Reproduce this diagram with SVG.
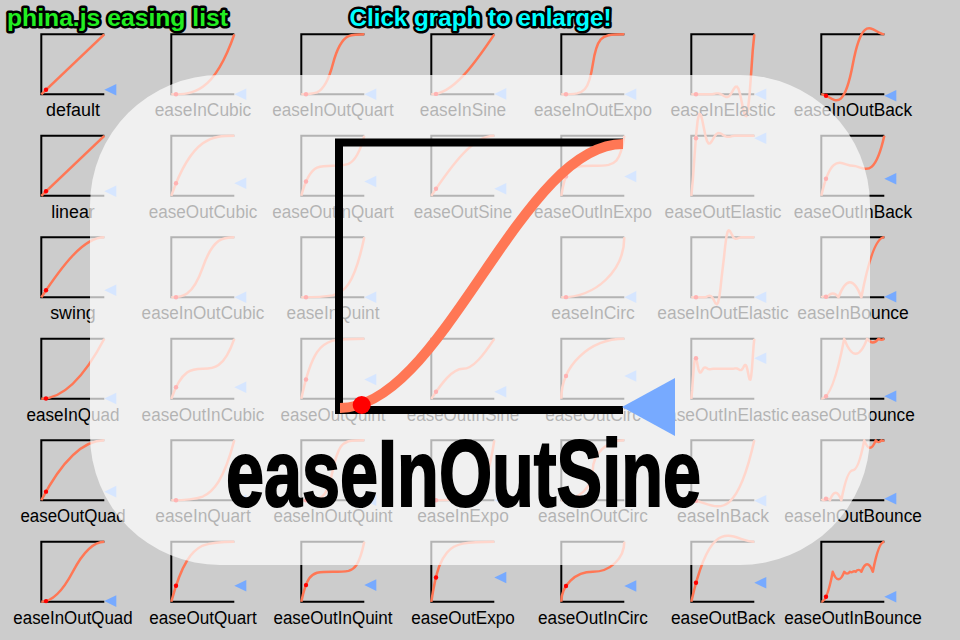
<svg xmlns="http://www.w3.org/2000/svg" xmlns:xlink="http://www.w3.org/1999/xlink" width="960" height="640" viewBox="0 0 960 640">
<style>
.cv{fill:none;stroke:#ff7755;stroke-width:4;stroke-linejoin:round}
.fr{fill:none;stroke:#000;stroke-width:2}
.dot{fill:#ff0000}
.tri{fill:#77aaff}
.lb{font-family:"Liberation Sans",Arial,sans-serif;font-size:18px;fill:#000;text-anchor:middle}
.ttl{font-family:"Liberation Sans",Arial,sans-serif;font-size:24px;font-weight:bold;stroke:#000;stroke-width:5;stroke-linejoin:round;paint-order:stroke}
</style>
<defs>
<polyline id="frame" class="fr" points="63,0 0,0 0,60 63,60"/>
<circle id="dot" class="dot" cx="4.7" cy="0" r="2.2"/>
<polygon id="tri" class="tri" points="63,0 75,-5.8 75,5.8"/>
<path id="lin" d="M0,0 L100,-100"/>
<path id="sinIn" d="M0,0 C33.33,0 66.67,-47.64 100,-100"/>
<path id="sinOut" d="M0,0 C33.33,-52.36 66.67,-100 100,-100"/>
<path id="sinInOut" d="M0,0 C8.333,0 16.667,-5.389 25,-14.645 C33.333,-23.901 41.667,-36.91 50,-50 C58.333,-63.09 66.667,-76.099 75,-85.355 C83.333,-94.611 91.667,-100 100,-100"/>
<path id="sinOutIn" d="M0,0 C16.67,-26.18 33.33,-50 50,-50 C66.67,-50 83.33,-73.82 100,-100"/>
<path id="quadIn" d="M0,0 Q50,0 100,-100"/>
<path id="quadOut" d="M0,0 Q50,-100 100,-100"/>
<path id="quadInOut" d="M0,0 Q25,0 50,-50 Q75,-100 100,-100"/>
<path id="cubicIn" d="M0,0 C33.33,0 66.67,0 100,-100"/>
<path id="cubicOut" d="M0,0 C33.33,-100 66.67,-100 100,-100"/>
<path id="cubicInOut" d="M0,0 C16.67,0 33.33,0 50,-50 C66.67,-100 83.33,-100 100,-100"/>
<path id="cubicOutIn" d="M0,0 C16.67,-50 33.33,-50 50,-50 C66.67,-50 83.33,-50 100,-100"/>
<path id="quartIn" d="M0,0 C16.67,0 33.33,0 50,-6.25 C66.67,-14.58 83.33,-33.33 100,-100"/>
<path id="quartOut" d="M0,0 C16.67,-66.67 33.33,-85.42 50,-93.75 C66.67,-100 83.33,-100 100,-100"/>
<path id="quartInOut" d="M0,0 C8.33,0 16.67,0 25,-3.13 C33.33,-7.29 41.67,-16.67 50,-50 C58.33,-83.33 66.67,-92.71 75,-96.88 C83.33,-100 91.67,-100 100,-100"/>
<path id="quartOutIn" d="M0,0 C8.33,-33.33 16.67,-42.71 25,-46.88 C33.33,-50 41.67,-50 50,-50 C58.33,-50 66.67,-50 75,-53.13 C83.33,-57.29 91.67,-66.67 100,-100"/>
<path id="quintIn" d="M0,0 C16.67,0 33.33,0 50,-3.13 C66.67,-8.33 83.33,-16.67 100,-100"/>
<path id="quintOut" d="M0,0 C16.67,-83.33 33.33,-91.67 50,-96.88 C66.67,-100 83.33,-100 100,-100"/>
<path id="quintInOut" d="M0,0 C8.33,0 16.67,0 25,-1.56 C33.33,-4.17 41.67,-8.33 50,-50 C58.33,-91.67 66.67,-95.83 75,-98.44 C83.33,-100 91.67,-100 100,-100"/>
<path id="quintOutIn" d="M0,0 C8.33,-41.67 16.67,-45.83 25,-48.44 C33.33,-50 41.67,-50 50,-50 C58.33,-50 66.67,-50 75,-51.56 C83.33,-54.17 91.67,-58.33 100,-100"/>
<path id="expoIn" d="M0,0 C16.67,0 33.33,0 50,-3.13 C58.33,-4.93 66.67,-7.47 75,-17.68 C83.33,-27.89 91.67,-42.24 100,-100"/>
<path id="expoOut" d="M0,0 C8.33,-57.76 16.67,-72.11 25,-82.32 C33.33,-92.53 41.67,-95.07 50,-96.88 C66.67,-100 83.33,-100 100,-100"/>
<path id="expoInOut" d="M0,0 C8.33,0 16.67,0 25,-1.56 C29.17,-2.47 33.33,-3.74 37.5,-8.84 C41.67,-13.95 45.83,-21.12 50,-50 C54.17,-78.88 58.33,-86.05 62.5,-91.16 C66.67,-96.26 70.83,-97.53 75,-98.44 C83.33,-100 91.67,-100 100,-100"/>
<path id="expoOutIn" d="M0,0 C4.17,-28.88 8.33,-36.05 12.5,-41.16 C16.67,-46.26 20.83,-47.53 25,-48.44 C33.33,-50 41.67,-50 50,-50 C58.33,-50 66.67,-50 75,-51.56 C79.17,-52.47 83.33,-53.74 87.5,-58.84 C91.67,-63.95 95.83,-71.12 100,-100"/>
<path id="circIn" d="M0,0 C55.23,0 100,-44.77 100,-100"/>
<path id="circOut" d="M0,0 C0,-55.23 44.77,-100 100,-100"/>
<path id="circInOut" d="M0,0 C27.61,0 50,-22.39 50,-50 C50,-77.61 72.39,-100 100,-100"/>
<path id="circOutIn" d="M0,0 C0,-27.61 22.39,-50 50,-50 C77.61,-50 100,-72.39 100,-100"/>
<path id="elIn" d="M0,0 L32.5,0 35,-0.55 37.5,-1.14 40,-1.56 42.5,-1.61 45,-1.11 47.5,0 50,1.56 52.5,3.22 55,4.42 57.5,4.55 60,3.13 62.5,0 65,-4.42 67.5,-9.1 70,-12.5 72.5,-12.88 75,-8.84 77.5,0 80,12.5 82.5,25.75 85,35.36 87.5,36.41 90,25 92.5,0 95,-35.36 97.5,-72.82 100,-100"/>
<path id="elOut" d="M0,0 L2.5,-27.18 5,-64.64 7.5,-100 10,-125 12.5,-136.41 15,-135.36 17.5,-125.75 20,-112.5 22.5,-100 25,-91.16 27.5,-87.12 30,-87.5 32.5,-90.9 35,-95.58 37.5,-100 40,-103.13 42.5,-104.55 45,-104.42 47.5,-103.22 50,-101.56 52.5,-100 55,-98.89 57.5,-98.39 60,-98.44 62.5,-98.86 65,-99.45 67.5,-100 100,-100"/>
<path id="elInOut" d="M0,0 L21.88,0 23.75,-0.66 25.63,-1.48 27.5,-2.21 29.38,-2.48 31.25,-1.86 33.13,0 35,3.13 36.88,7.02 38.75,10.51 40.63,11.8 42.5,8.84 44.38,0 46.25,-14.87 48.13,-33.39 50,-50 51.88,-66.61 53.75,-85.13 55.63,-100 57.5,-108.84 59.38,-111.8 61.25,-110.51 63.13,-107.02 65,-103.13 66.88,-100 68.75,-98.14 70.63,-97.52 72.5,-97.79 74.38,-98.52 76.25,-99.34 78.13,-100 100,-100"/>
<path id="elOutIn" d="M0,0 L1.25,-13.59 2.5,-32.32 3.75,-50 5,-62.5 6.25,-68.2 7.5,-67.68 8.75,-62.88 10,-56.25 11.25,-50 12.5,-45.58 13.75,-43.56 15,-43.75 16.25,-45.45 17.5,-47.79 18.75,-50 20,-51.56 21.25,-52.28 22.5,-52.21 23.75,-51.61 25,-50.78 26.25,-50 27.5,-49.45 28.75,-49.2 30,-49.22 31.25,-49.43 32.5,-49.72 33.75,-50 66.25,-50 67.5,-50.28 68.75,-50.57 70,-50.78 71.25,-50.8 72.5,-50.55 73.75,-50 75,-49.22 76.25,-48.39 77.5,-47.79 78.75,-47.72 80,-48.44 81.25,-50 82.5,-52.21 83.75,-54.55 85,-56.25 86.25,-56.44 87.5,-54.42 88.75,-50 90,-43.75 91.25,-37.12 92.5,-32.32 93.75,-31.8 95,-37.5 96.25,-50 97.5,-67.68 98.75,-86.41 100,-100"/>
<path id="backIn" d="M0,0 C33.33,0 66.67,56.72 100,-100"/>
<path id="backOut" d="M0,0 C33.33,-156.72 66.67,-100 100,-100"/>
<path id="backInOut" d="M0,0 C16.67,0 33.33,43.25 50,-50 C66.67,-143.25 83.33,-100 100,-100"/>
<path id="backOutIn" d="M0,0 C16.67,-78.36 33.33,-50 50,-50 C66.67,-50 83.33,-21.64 100,-100"/>
<path id="bounceIn" d="M0,0 Q4.55,-3.13 9.09,0 Q18.18,-12.5 27.27,0 Q45.45,-50 63.64,0 Q81.82,-100 100,-100"/>
<path id="bounceOut" d="M0,0 Q18.18,0 36.36,-100 Q54.55,-50 72.73,-100 Q81.82,-87.5 90.91,-100 Q95.45,-96.88 100,-100"/>
<path id="bounceInOut" d="M0,0 Q2.27,-1.56 4.55,0 Q9.09,-6.25 13.64,0 Q22.73,-25 31.82,0 Q40.91,-50 50,-50 Q59.09,-50 68.18,-100 Q77.27,-75 86.36,-100 Q90.91,-93.75 95.45,-100 Q97.73,-98.44 100,-100"/>
<path id="bounceOutIn" d="M0,0 Q9.09,0 18.18,-50 Q27.27,-25 36.36,-50 Q40.91,-43.75 45.45,-50 Q47.73,-48.44 50,-50 Q52.27,-51.56 54.55,-50 Q59.09,-56.25 63.64,-50 Q72.73,-75 81.82,-50 Q90.91,-100 100,-100"/>
</defs>
<rect width="960" height="640" fill="#cccccc"/>
<g id="titles">
<text class="ttl" x="7" y="26" fill="#22ee22" textLength="221" lengthAdjust="spacingAndGlyphs">phina.js easing list</text>
<text class="ttl" x="480.5" y="26" fill="#00ffff" text-anchor="middle" textLength="262" lengthAdjust="spacingAndGlyphs">Click graph to enlarge!</text>
</g>
<g id="grid">
<g id="n-default" transform="translate(41.3,34.3)"><use href="#frame"/><use href="#lin" class="cv" transform="translate(0,60) scale(.63,.6)"/><use href="#dot" y="55.5"/><use href="#tri" y="55.5"/><text class="lb" x="31.7" y="82" textLength="53.8" lengthAdjust="spacingAndGlyphs">default</text></g>
<g id="n-linear" transform="translate(41.3,135.8)"><use href="#frame"/><use href="#lin" class="cv" transform="translate(0,60) scale(.63,.6)"/><use href="#dot" y="55.5"/><use href="#tri" y="55.5"/><text class="lb" x="31.7" y="82" textLength="43.6" lengthAdjust="spacingAndGlyphs">linear</text></g>
<g id="n-swing" transform="translate(41.3,237.3)"><use href="#frame"/><use href="#sinOut" class="cv" transform="translate(0,60) scale(.63,.6)"/><use href="#dot" y="52.95"/><use href="#tri" y="52.95"/><text class="lb" x="31.7" y="82" textLength="45.6" lengthAdjust="spacingAndGlyphs">swing</text></g>
<g id="n-easeInQuad" transform="translate(41.3,338.8)"><use href="#frame"/><use href="#quadIn" class="cv" transform="translate(0,60) scale(.63,.6)"/><use href="#dot" y="59.66"/><use href="#tri" y="59.66"/><text class="lb" x="31.7" y="82" textLength="93.1" lengthAdjust="spacingAndGlyphs">easeInQuad</text></g>
<g id="n-easeOutQuad" transform="translate(41.3,440.3)"><use href="#frame"/><use href="#quadOut" class="cv" transform="translate(0,60) scale(.63,.6)"/><use href="#dot" y="51.34"/><use href="#tri" y="51.34"/><text class="lb" x="31.7" y="82" textLength="105.1" lengthAdjust="spacingAndGlyphs">easeOutQuad</text></g>
<g id="n-easeInOutQuad" transform="translate(41.3,541.8)"><use href="#frame"/><use href="#quadInOut" class="cv" transform="translate(0,60) scale(.63,.6)"/><use href="#dot" y="59.32"/><use href="#tri" y="59.32"/><text class="lb" x="31.7" y="82" textLength="119.3" lengthAdjust="spacingAndGlyphs">easeInOutQuad</text></g>

<g id="n-easeInCubic" transform="translate(171.3,34.3)"><use href="#frame"/><use href="#cubicIn" class="cv" transform="translate(0,60) scale(.63,.6)"/><use href="#dot" y="59.97"/><use href="#tri" y="59.97"/><text class="lb" x="31.7" y="82" textLength="96.6" lengthAdjust="spacingAndGlyphs">easeInCubic</text></g>
<g id="n-easeOutCubic" transform="translate(171.3,135.8)"><use href="#frame"/><use href="#cubicOut" class="cv" transform="translate(0,60) scale(.63,.6)"/><use href="#dot" y="47.49"/><use href="#tri" y="47.49"/><text class="lb" x="31.7" y="82" textLength="108.6" lengthAdjust="spacingAndGlyphs">easeOutCubic</text></g>
<g id="n-easeInOutCubic" transform="translate(171.3,237.3)"><use href="#frame"/><use href="#cubicInOut" class="cv" transform="translate(0,60) scale(.63,.6)"/><use href="#dot" y="59.9"/><use href="#tri" y="59.9"/><text class="lb" x="31.7" y="82" textLength="122.8" lengthAdjust="spacingAndGlyphs">easeInOutCubic</text></g>
<g id="n-easeOutInCubic" transform="translate(171.3,338.8)"><use href="#frame"/><use href="#cubicOutIn" class="cv" transform="translate(0,60) scale(.63,.6)"/><use href="#dot" y="48.42"/><use href="#tri" y="48.42"/><text class="lb" x="31.7" y="82" textLength="122.8" lengthAdjust="spacingAndGlyphs">easeOutInCubic</text></g>
<g id="n-easeInQuart" transform="translate(171.3,440.3)"><use href="#frame"/><use href="#quartIn" class="cv" transform="translate(0,60) scale(.63,.6)"/><use href="#dot" y="60"/><use href="#tri" y="60"/><text class="lb" x="31.7" y="82" textLength="95.4" lengthAdjust="spacingAndGlyphs">easeInQuart</text></g>
<g id="n-easeOutQuart" transform="translate(171.3,541.8)"><use href="#frame"/><use href="#quartOut" class="cv" transform="translate(0,60) scale(.63,.6)"/><use href="#dot" y="43.93"/><use href="#tri" y="43.93"/><text class="lb" x="31.7" y="82" textLength="107.4" lengthAdjust="spacingAndGlyphs">easeOutQuart</text></g>

<g id="n-easeInOutQuart" transform="translate(301.3,34.3)"><use href="#frame"/><use href="#quartInOut" class="cv" transform="translate(0,60) scale(.63,.6)"/><use href="#dot" y="60"/><use href="#tri" y="60"/><text class="lb" x="31.7" y="82" textLength="121.6" lengthAdjust="spacingAndGlyphs">easeInOutQuart</text></g>
<g id="n-easeOutInQuart" transform="translate(301.3,135.8)"><use href="#frame"/><use href="#quartOutIn" class="cv" transform="translate(0,60) scale(.63,.6)"/><use href="#dot" y="45.66"/><use href="#tri" y="45.66"/><text class="lb" x="31.7" y="82" textLength="121.6" lengthAdjust="spacingAndGlyphs">easeOutInQuart</text></g>
<g id="n-easeInQuint" transform="translate(301.3,237.3)"><use href="#frame"/><use href="#quintIn" class="cv" transform="translate(0,60) scale(.63,.6)"/><use href="#dot" y="60"/><use href="#tri" y="60"/><text class="lb" x="31.7" y="82" textLength="92.9" lengthAdjust="spacingAndGlyphs">easeInQuint</text></g>
<g id="n-easeOutQuint" transform="translate(301.3,338.8)"><use href="#frame"/><use href="#quintOut" class="cv" transform="translate(0,60) scale(.63,.6)"/><use href="#dot" y="40.63"/><use href="#tri" y="40.63"/><text class="lb" x="31.7" y="82" textLength="104.9" lengthAdjust="spacingAndGlyphs">easeOutQuint</text></g>
<g id="n-easeInOutQuint" transform="translate(301.3,440.3)"><use href="#frame"/><use href="#quintInOut" class="cv" transform="translate(0,60) scale(.63,.6)"/><use href="#dot" y="60"/><use href="#tri" y="60"/><text class="lb" x="31.7" y="82" textLength="119.1" lengthAdjust="spacingAndGlyphs">easeInOutQuint</text></g>
<g id="n-easeOutInQuint" transform="translate(301.3,541.8)"><use href="#frame"/><use href="#quintOutIn" class="cv" transform="translate(0,60) scale(.63,.6)"/><use href="#dot" y="43.32"/><use href="#tri" y="43.32"/><text class="lb" x="31.7" y="82" textLength="119.1" lengthAdjust="spacingAndGlyphs">easeOutInQuint</text></g>

<g id="n-easeInSine" transform="translate(431.3,34.3)"><use href="#frame"/><use href="#sinIn" class="cv" transform="translate(0,60) scale(.63,.6)"/><use href="#dot" y="59.59"/><use href="#tri" y="59.59"/><text class="lb" x="31.7" y="82" textLength="86.4" lengthAdjust="spacingAndGlyphs">easeInSine</text></g>
<g id="n-easeOutSine" transform="translate(431.3,135.8)"><use href="#frame"/><use href="#sinOut" class="cv" transform="translate(0,60) scale(.63,.6)"/><use href="#dot" y="52.95"/><use href="#tri" y="52.95"/><text class="lb" x="31.7" y="82" textLength="98.4" lengthAdjust="spacingAndGlyphs">easeOutSine</text></g>
<g id="n-easeOutInSine" transform="translate(431.3,338.8)"><use href="#frame"/><use href="#sinOutIn" class="cv" transform="translate(0,60) scale(.63,.6)"/><use href="#dot" y="53"/><use href="#tri" y="53"/><text class="lb" x="31.7" y="82" textLength="112.6" lengthAdjust="spacingAndGlyphs">easeOutInSine</text></g>
<g id="n-easeInExpo" transform="translate(431.3,440.3)"><use href="#frame"/><use href="#expoIn" class="cv" transform="translate(0,60) scale(.63,.6)"/><use href="#dot" y="59.9"/><use href="#tri" y="59.9"/><text class="lb" x="31.7" y="82" textLength="91.6" lengthAdjust="spacingAndGlyphs">easeInExpo</text></g>
<g id="n-easeOutExpo" transform="translate(431.3,541.8)"><use href="#frame"/><use href="#expoOut" class="cv" transform="translate(0,60) scale(.63,.6)"/><use href="#dot" y="35.68"/><use href="#tri" y="35.68"/><text class="lb" x="31.7" y="82" textLength="103.6" lengthAdjust="spacingAndGlyphs">easeOutExpo</text></g>

<g id="n-easeInOutExpo" transform="translate(561.3,34.3)"><use href="#frame"/><use href="#expoInOut" class="cv" transform="translate(0,60) scale(.63,.6)"/><use href="#dot" y="59.92"/><use href="#tri" y="59.92"/><text class="lb" x="31.7" y="82" textLength="117.8" lengthAdjust="spacingAndGlyphs">easeInOutExpo</text></g>
<g id="n-easeOutInExpo" transform="translate(561.3,135.8)"><use href="#frame"/><use href="#expoOutIn" class="cv" transform="translate(0,60) scale(.63,.6)"/><use href="#dot" y="40.61"/><use href="#tri" y="40.61"/><text class="lb" x="31.7" y="82" textLength="117.8" lengthAdjust="spacingAndGlyphs">easeOutInExpo</text></g>
<g id="n-easeInCirc" transform="translate(561.3,237.3)"><use href="#frame"/><use href="#circIn" class="cv" transform="translate(0,60) scale(.63,.6)"/><use href="#dot" y="59.83"/><use href="#tri" y="59.83"/><text class="lb" x="31.7" y="82" textLength="83.7" lengthAdjust="spacingAndGlyphs">easeInCirc</text></g>
<g id="n-easeOutCirc" transform="translate(561.3,338.8)"><use href="#frame"/><use href="#circOut" class="cv" transform="translate(0,60) scale(.63,.6)"/><use href="#dot" y="37.2"/><use href="#tri" y="37.2"/><text class="lb" x="31.7" y="82" textLength="95.7" lengthAdjust="spacingAndGlyphs">easeOutCirc</text></g>
<g id="n-easeInOutCirc" transform="translate(561.3,440.3)"><use href="#frame"/><use href="#circInOut" class="cv" transform="translate(0,60) scale(.63,.6)"/><use href="#dot" y="59.66"/><use href="#tri" y="59.66"/><text class="lb" x="31.7" y="82" textLength="109.9" lengthAdjust="spacingAndGlyphs">easeInOutCirc</text></g>
<g id="n-easeOutInCirc" transform="translate(561.3,541.8)"><use href="#frame"/><use href="#circOutIn" class="cv" transform="translate(0,60) scale(.63,.6)"/><use href="#dot" y="44.2"/><use href="#tri" y="44.2"/><text class="lb" x="31.7" y="82" textLength="109.9" lengthAdjust="spacingAndGlyphs">easeOutInCirc</text></g>

<g id="n-easeInElastic" transform="translate(691.3,34.3)"><use href="#frame"/><use href="#elIn" class="cv" transform="translate(0,60) scale(.63,.6)"/><use href="#dot" y="60"/><use href="#tri" y="60"/><text class="lb" x="31.7" y="82" textLength="105.1" lengthAdjust="spacingAndGlyphs">easeInElastic</text></g>
<g id="n-easeOutElastic" transform="translate(691.3,135.8)"><use href="#frame"/><use href="#elOut" class="cv" transform="translate(0,60) scale(.63,.6)"/><use href="#dot" y="2.4"/><use href="#tri" y="2.4"/><text class="lb" x="31.7" y="82" textLength="117.1" lengthAdjust="spacingAndGlyphs">easeOutElastic</text></g>
<g id="n-easeInOutElastic" transform="translate(691.3,237.3)"><use href="#frame"/><use href="#elInOut" class="cv" transform="translate(0,60) scale(.63,.6)"/><use href="#dot" y="60"/><use href="#tri" y="60"/><text class="lb" x="31.7" y="82" textLength="131.3" lengthAdjust="spacingAndGlyphs">easeInOutElastic</text></g>
<g id="n-easeOutInElastic" transform="translate(691.3,338.8)"><use href="#frame"/><use href="#elOutIn" class="cv" transform="translate(0,60) scale(.63,.6)"/><use href="#dot" y="19.39"/><use href="#tri" y="19.39"/><text class="lb" x="31.7" y="82" textLength="131.3" lengthAdjust="spacingAndGlyphs">easeOutInElastic</text></g>
<g id="n-easeInBack" transform="translate(691.3,440.3)"><use href="#frame"/><use href="#backIn" class="cv" transform="translate(0,60) scale(.63,.6)"/><use href="#dot" y="60.5"/><use href="#tri" y="60.5"/><text class="lb" x="31.7" y="82" textLength="92.1" lengthAdjust="spacingAndGlyphs">easeInBack</text></g>
<g id="n-easeOutBack" transform="translate(691.3,541.8)"><use href="#frame"/><use href="#backOut" class="cv" transform="translate(0,60) scale(.63,.6)"/><use href="#dot" y="40.94"/><use href="#tri" y="40.94"/><text class="lb" x="31.7" y="82" textLength="104.1" lengthAdjust="spacingAndGlyphs">easeOutBack</text></g>

<g id="n-easeInOutBack" transform="translate(821.3,34.3)"><use href="#frame"/><use href="#backInOut" class="cv" transform="translate(0,60) scale(.63,.6)"/><use href="#dot" y="61.39"/><use href="#tri" y="61.39"/><text class="lb" x="31.7" y="82" textLength="118.3" lengthAdjust="spacingAndGlyphs">easeInOutBack</text></g>
<g id="n-easeOutInBack" transform="translate(821.3,135.8)"><use href="#frame"/><use href="#backOutIn" class="cv" transform="translate(0,60) scale(.63,.6)"/><use href="#dot" y="42.89"/><use href="#tri" y="42.89"/><text class="lb" x="31.7" y="82" textLength="118.3" lengthAdjust="spacingAndGlyphs">easeOutInBack</text></g>
<g id="n-easeInBounce" transform="translate(821.3,237.3)"><use href="#frame"/><use href="#bounceIn" class="cv" transform="translate(0,60) scale(.63,.6)"/><use href="#dot" y="59.46"/><use href="#tri" y="59.46"/><text class="lb" x="31.7" y="82" textLength="111.5" lengthAdjust="spacingAndGlyphs">easeInBounce</text></g>
<g id="n-easeOutBounce" transform="translate(821.3,338.8)"><use href="#frame"/><use href="#bounceOut" class="cv" transform="translate(0,60) scale(.63,.6)"/><use href="#dot" y="57.45"/><use href="#tri" y="57.45"/><text class="lb" x="31.7" y="82" textLength="123.5" lengthAdjust="spacingAndGlyphs">easeOutBounce</text></g>
<g id="n-easeInOutBounce" transform="translate(821.3,440.3)"><use href="#frame"/><use href="#bounceInOut" class="cv" transform="translate(0,60) scale(.63,.6)"/><use href="#dot" y="58.36"/><use href="#tri" y="58.36"/><text class="lb" x="31.7" y="82" textLength="137.7" lengthAdjust="spacingAndGlyphs">easeInOutBounce</text></g>
<g id="n-easeOutInBounce" transform="translate(821.3,541.8)"><use href="#frame"/><use href="#bounceOutIn" class="cv" transform="translate(0,60) scale(.63,.6)"/><use href="#dot" y="54.89"/><use href="#tri" y="54.89"/><text class="lb" x="31.7" y="82" textLength="137.7" lengthAdjust="spacingAndGlyphs">easeOutInBounce</text></g>
</g>
<rect id="overlay" x="90" y="75" width="780" height="490" rx="130" ry="130" fill="#ffffff" fill-opacity="0.7"/>
<g id="enlarged">
<polyline points="623,142.5 339,142.5 339,410 623,410" fill="none" stroke="#000" stroke-width="8"/>
<use href="#sinInOut" class="cv" transform="translate(340,408) scale(2.83,2.64)" style="stroke-width:3.7"/>
<circle cx="361.7" cy="405" r="9" fill="#ff0000"/>
<polygon points="622,407 675,378 675,436" fill="#77aaff"/>
<text x="226" y="506" font-family="'Liberation Sans',Arial,sans-serif" font-size="94" font-weight="bold" fill="#000" stroke="#000" stroke-width="2" textLength="475" lengthAdjust="spacingAndGlyphs">easeInOutSine</text>
</g>
</svg>
